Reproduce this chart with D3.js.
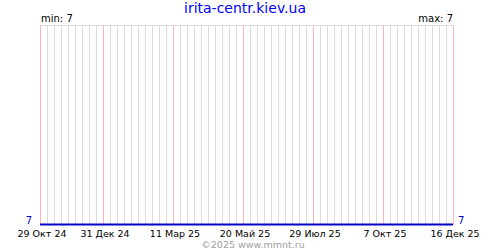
<!DOCTYPE html>
<html>
<head>
<meta charset="utf-8">
<script src="https://cdn.jsdelivr.net/npm/d3@7"></script>
<style>
  body { margin: 0; background: #fff; }
  text { font-family: "DejaVu Sans", sans-serif; }
</style>
</head>
<body>
<script>
const title = 'irita-centr.kiev.ua';
const credit = '©2025 www.mmnt.ru';

// series: value stays flat over the whole period
const seriesDates = ['2024-10-29', '2025-12-16'];
const seriesValues = [7, 7];

const tickDates = ['2024-10-29', '2024-12-31', '2025-03-11', '2025-05-20', '2025-07-29', '2025-10-07', '2025-12-16'];
const tickLabels = ['29 Окт 24', '31 Дек 24', '11 Мар 25', '20 Май 25', '29 Июл 25', '7 Окт 25', '16 Дек 25'];

const width = 500;
const height = 250;
const margin = { top: 25, right: 47, bottom: 25, left: 40 };

const parse = d3.utcParse('%Y-%m-%d');
const data = seriesDates.map((d, i) => ({ date: parse(d), value: seriesValues[i] }));
const minV = d3.min(seriesValues);
const maxV = d3.max(seriesValues);

const svg = d3.select('body')
  .append('svg')
  .attr('width', width)
  .attr('height', height);

const x = d3.scaleUtc()
  .domain(d3.extent(data, d => d.date))
  .range([margin.left, width - margin.right]);

const y = d3.scaleLinear()
  .domain([minV, maxV + 1])
  .range([height - margin.bottom, margin.top]);

// weekly grid
const weeks = d3.utcTuesday.range(x.domain()[0], d3.utcDay.offset(x.domain()[1], 1));
const major = new Set(tickDates.map(d => +parse(d)));

const grid = svg.append('g');
grid.selectAll('line.minor')
  .data(weeks.filter(d => !major.has(+d)))
  .join('line')
  .attr('class', 'minor')
  .attr('x1', d => Math.round(x(d)) + 0.5)
  .attr('x2', d => Math.round(x(d)) + 0.5)
  .attr('y1', margin.top)
  .attr('y2', height - margin.bottom)
  .attr('stroke', '#dcdcdc');

// top border
svg.append('line')
  .attr('x1', margin.left)
  .attr('x2', width - margin.right + 1)
  .attr('y1', margin.top + 0.5)
  .attr('y2', margin.top + 0.5)
  .attr('stroke', '#dcdcdc');

grid.selectAll('line.major')
  .data(tickDates)
  .join('line')
  .attr('class', 'major')
  .attr('x1', d => Math.round(x(parse(d))) + 0.5)
  .attr('x2', d => Math.round(x(parse(d))) + 0.5)
  .attr('y1', margin.top)
  .attr('y2', height - margin.bottom)
  .attr('stroke', '#ffb4b4');

// series line
svg.append('path')
  .datum(data)
  .attr('fill', 'none')
  .attr('stroke', '#0000cc')
  .attr('stroke-width', 2)
  .attr('d', d3.line().x(d => x(d.date)).y(d => y(d.value) - 0.5));

// x tick labels
svg.append('g')
  .selectAll('text')
  .data(tickDates)
  .join('text')
  .attr('x', d => x(parse(d)) + 2)
  .attr('y', 237)
  .attr('text-anchor', 'middle')
  .attr('font-size', '9.5px')
  .attr('fill', '#000')
  .text((d, i) => tickLabels[i]);

// value labels at ends
svg.append('text')
  .attr('x', margin.left - 8)
  .attr('y', y(minV) - 1)
  .attr('text-anchor', 'end')
  .attr('font-size', '10px')
  .attr('fill', '#0000cc')
  .text(minV);

svg.append('text')
  .attr('x', width - margin.right + 5)
  .attr('y', y(seriesValues[seriesValues.length - 1]) - 1)
  .attr('font-size', '10px')
  .attr('fill', '#0000cc')
  .text(seriesValues[seriesValues.length - 1]);

svg.append('text')
  .attr('x', margin.left + 1)
  .attr('y', 22)
  .attr('font-size', '10px')
  .attr('fill', '#000')
  .text('min: ' + minV);

svg.append('text')
  .attr('x', width - margin.right)
  .attr('y', 22)
  .attr('text-anchor', 'end')
  .attr('font-size', '10px')
  .attr('fill', '#000')
  .text('max: ' + maxV);

// title
svg.append('text')
  .attr('x', 245)
  .attr('y', 13)
  .attr('text-anchor', 'middle')
  .attr('font-size', '14px')
  .attr('fill', '#0000ff')
  .text(title);

// credit
svg.append('text')
  .attr('x', 253)
  .attr('y', 248)
  .attr('text-anchor', 'middle')
  .attr('font-size', '9.5px')
  .attr('fill', '#a0a0a0')
  .text(credit);
</script>
</body>
</html>
